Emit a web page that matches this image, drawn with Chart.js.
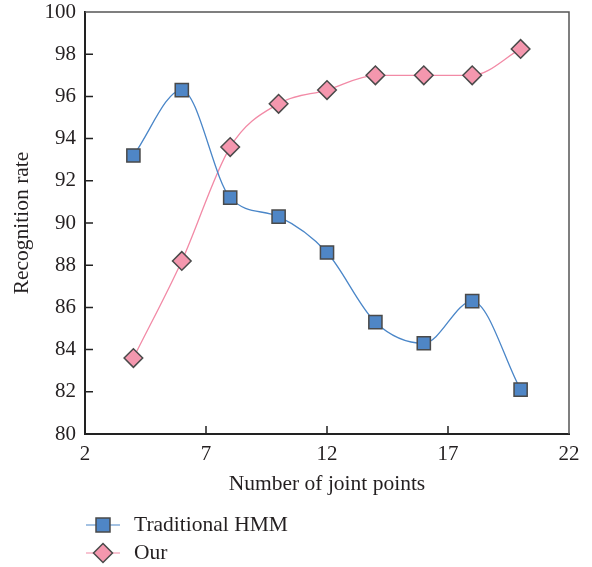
<!DOCTYPE html>
<html>
<head>
<meta charset="utf-8">
<script src="https://cdn.jsdelivr.net/npm/chart.js@4"></script>
<style>
  html, body { margin: 0; padding: 0; background: #fff; }
  #wrap { width: 592px; height: 567px; }
</style>
</head>
<body>
<div id="wrap"><canvas id="chart" width="592" height="567"></canvas></div>
<script>
// joint point counts and recognition rates
const jointPoints = [4, 6, 8, 10, 12, 14, 16, 18, 20];
const hmmRates = [93.2, 96.3, 91.2, 90.3, 88.6, 85.3, 84.3, 86.3, 82.1];
const ourRates = [83.6, 88.2, 93.6, 95.65, 96.3, 97.0, 97.0, 97.0, 98.25];
const seriesNames = ['Traditional HMM', 'Our'];

const serif = "'Liberation Serif', 'DejaVu Serif', serif";

function toPoints(xs, ys) {
    return xs.map((x, i) => ({ x: x, y: ys[i] }));
}

// inward ticks, top/right frame and the legend under the axis title
const framePlugin = {
    id: 'frame',
    afterDraw(chart) {
        const ctx = chart.ctx;
        const area = chart.chartArea;
        const xs = chart.scales.x;
        const ys = chart.scales.y;
        ctx.save();
        ctx.strokeStyle = '#555';
        ctx.lineWidth = 1.5;
        ctx.beginPath();
        ctx.moveTo(area.left, area.top);
        ctx.lineTo(area.right, area.top);
        ctx.lineTo(area.right, area.bottom);
        ctx.stroke();

        ctx.strokeStyle = '#222';
        ctx.lineWidth = 1.5;
        ctx.beginPath();
        xs.ticks.forEach(t => {
            const px = xs.getPixelForValue(t.value);
            if (px > area.left + 2 && px < area.right - 2) {
                ctx.moveTo(px, area.bottom);
                ctx.lineTo(px, area.bottom - 8);
            }
        });
        ys.ticks.forEach(t => {
            const py = ys.getPixelForValue(t.value);
            if (py > area.top + 2 && py < area.bottom - 2) {
                ctx.moveTo(area.left, py);
                ctx.lineTo(area.left + 8, py);
            }
        });
        ctx.stroke();

        // legend
        chart.data.datasets.forEach((ds, i) => {
            const cy = 525 + i * 28;
            const cx = 103;
            ctx.strokeStyle = ds.borderColor;
            ctx.lineWidth = 1.2;
            ctx.beginPath();
            ctx.moveTo(86, cy);
            ctx.lineTo(120, cy);
            ctx.stroke();
            ctx.fillStyle = ds.pointBackgroundColor;
            ctx.strokeStyle = ds.pointBorderColor;
            ctx.lineWidth = ds.pointBorderWidth;
            ctx.beginPath();
            if (ds.pointStyle === 'rect') {
                ctx.rect(cx - 7, cy - 7, 14, 14);
            } else {
                ctx.moveTo(cx, cy - 9.5);
                ctx.lineTo(cx + 9.5, cy);
                ctx.lineTo(cx, cy + 9.5);
                ctx.lineTo(cx - 9.5, cy);
                ctx.closePath();
            }
            ctx.fill();
            ctx.stroke();
            ctx.fillStyle = '#231f20';
            ctx.font = '21.5px ' + serif;
            ctx.textBaseline = 'middle';
            ctx.textAlign = 'left';
            ctx.fillText(ds.label, 134, cy);
        });
        ctx.restore();
    }
};

const ctx = document.getElementById('chart').getContext('2d');
new Chart(ctx, {
    type: 'line',
    data: {
        datasets: [{
            label: seriesNames[0],
            data: toPoints(jointPoints, hmmRates),
            borderColor: '#4a86c8',
            borderWidth: 1.3,
            pointStyle: 'rect',
            pointRadius: 9.3,
            pointBackgroundColor: '#4f86c6',
            pointBorderColor: '#4a4a4a',
            pointBorderWidth: 1.5,
            cubicInterpolationMode: 'monotone'
        }, {
            label: seriesNames[1],
            data: toPoints(jointPoints, ourRates),
            borderColor: '#f28aa6',
            borderWidth: 1.3,
            pointStyle: 'rectRot',
            pointRadius: 9.3,
            pointBackgroundColor: '#f497ae',
            pointBorderColor: '#4a4a4a',
            pointBorderWidth: 1.5,
            cubicInterpolationMode: 'monotone'
        }]
    },
    options: {
        responsive: false,
        animation: false,
        layout: { padding: { top: 12, right: 23, bottom: 60, left: 0 } },
        plugins: {
            legend: { display: false },
            tooltip: { enabled: false }
        },
        scales: {
            x: {
                type: 'linear',
                min: 2,
                max: 22,
                afterFit: scale => { scale.height = 73; },
                grid: { display: false, drawTicks: false },
                border: { display: true, color: '#222', width: 2 },
                ticks: {
                    stepSize: 5,
                    padding: 8,
                    color: '#231f20',
                    font: { family: serif, size: 21 }
                },
                title: {
                    display: true,
                    text: 'Number of joint points',
                    color: '#231f20',
                    font: { family: serif, size: 21.5 },
                    padding: { top: 4, bottom: 10 }
                }
            },
            y: {
                min: 80,
                max: 100,
                afterFit: scale => { scale.width = 85; scale.paddingTop = 0; scale.paddingBottom = 0; },
                grid: { display: false, drawTicks: false },
                border: { display: true, color: '#222', width: 2 },
                ticks: {
                    stepSize: 2,
                    padding: 9,
                    color: '#231f20',
                    font: { family: serif, size: 21, lineHeight: 0.5 }
                },
                title: {
                    display: true,
                    text: 'Recognition rate',
                    color: '#231f20',
                    font: { family: serif, size: 21.5 },
                    padding: { top: 9, bottom: 4 }
                }
            }
        }
    },
    plugins: [framePlugin]
});
</script>
</body>
</html>
